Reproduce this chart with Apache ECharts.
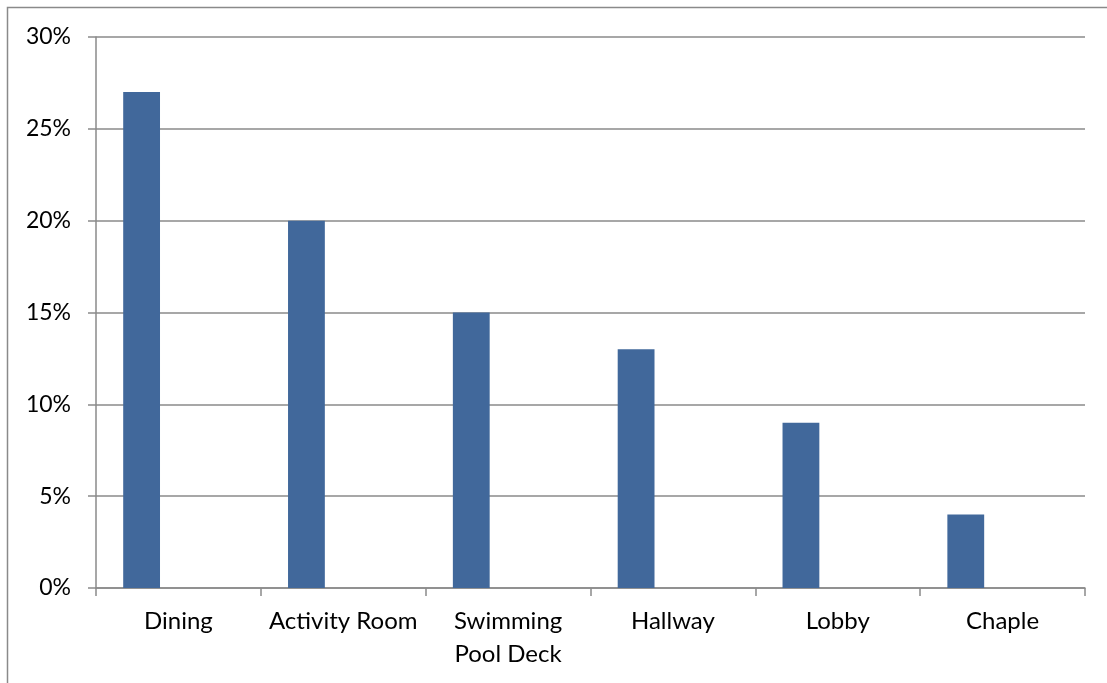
<!DOCTYPE html>
<html>
<head>
<meta charset="utf-8">
<script src="https://cdn.jsdelivr.net/npm/echarts@6/dist/echarts.min.js"></script>
<style>
  html, body { margin: 0; padding: 0; background: #fff; }
  #chart { width: 1107px; height: 683px; }
</style>
</head>
<body>
<div id="chart"></div>
<script>
// Share of incidents by location
const categories = ['Dining', 'Activity Room', 'Swimming\nPool Deck', 'Hallway', 'Lobby', 'Chaple'];
const shares = [27, 20, 15, 13, 9, 4];
// Two empty companion series keep the bars in the left slot of each category
const emptyA = ['-', '-', '-', '-', '-', '-'];
const emptyB = ['-', '-', '-', '-', '-', '-'];
const yTicks = { min: 0, max: 30, interval: 5 };

const axisGrey = '#8a8a8a';
const font = 'Lato, "Open Sans", sans-serif';

const chart = echarts.init(document.getElementById('chart'), null, { renderer: 'canvas' });
chart.setOption({
  animation: false,
  backgroundColor: '#fff',
  textStyle: { fontFamily: font },
  grid: { left: 96, top: 37, right: 22, bottom: 95, containLabel: false },
  graphic: [
    {
      type: 'polyline',
      shape: { points: [[7.5, 683], [7.5, 7.5], [1107, 7.5]] },
      style: { stroke: axisGrey, lineWidth: 1.5, fill: null },
      silent: true
    }
  ],
  xAxis: {
    type: 'category',
    data: categories,
    boundaryGap: true,
    axisLine: { show: true, lineStyle: { color: axisGrey, width: 1.5 } },
    axisTick: { show: true, length: 8, alignWithLabel: false, lineStyle: { color: axisGrey, width: 1.5 } },
    axisLabel: {
      interval: 0,
      margin: 17,
      color: '#000',
      fontSize: 24,
      lineHeight: 33,
      fontFamily: font
    },
    splitLine: { show: false }
  },
  yAxis: {
    type: 'value',
    min: yTicks.min,
    max: yTicks.max,
    interval: yTicks.interval,
    axisLine: { show: true, lineStyle: { color: axisGrey, width: 1.5 } },
    axisTick: { show: true, length: 8, lineStyle: { color: axisGrey, width: 1.5 } },
    axisLabel: {
      margin: 25,
      color: '#000',
      fontSize: 23,
      fontFamily: font,
      formatter: v => v + '%'
    },
    splitLine: { show: true, lineStyle: { color: axisGrey, width: 1.5 } }
  },
  series: [
    {
      type: 'bar',
      data: shares,
      barGap: '0%',
      barCategoryGap: '33%',
      itemStyle: { color: '#41689b' }
    },
    { type: 'bar', data: emptyA, barGap: '0%', barCategoryGap: '33%' },
    { type: 'bar', data: emptyB, barGap: '0%', barCategoryGap: '33%' }
  ]
});
</script>
</body>
</html>
